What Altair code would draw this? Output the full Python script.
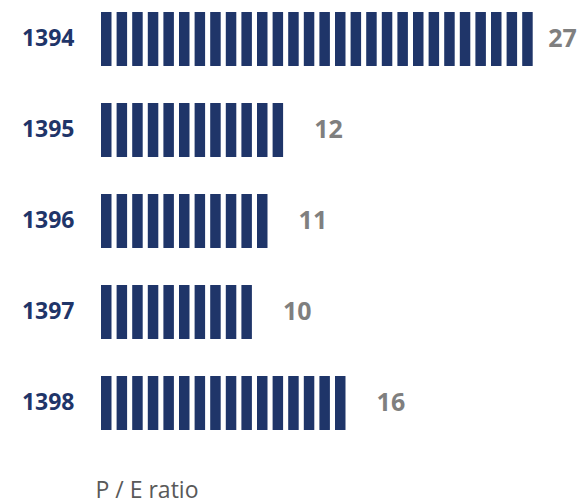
import altair as alt
import pandas as pd

years = ["1394", "1395", "1396", "1397", "1398"]
pe_labels = [27, 12, 11, 10, 16]
stripe_counts = [28, 12, 11, 10, 16]

NAVY = "#1f3569"
GRAY = "#7f7f7f"

rows = []
for y, n in zip(years, stripe_counts):
    for k in range(n):
        rows.append({"year": y, "x0": k, "x1": k + 0.673})
stripes = pd.DataFrame(rows)

labels = pd.DataFrame({"year": years, "label": [str(v) for v in pe_labels], "pe": pe_labels})

yenc = alt.Y("year:N", sort=years,
             scale=alt.Scale(paddingInner=0.407, paddingOuter=0.132),
             axis=alt.Axis(title=None, ticks=False, domain=False, labelPadding=27,
                           labelFontSize=23, labelFontWeight="bold", labelColor=NAVY,
                           labelFont="Open Sans"))
xscale = alt.Scale(domain=[0, 30], nice=False, zero=True)

bars = alt.Chart(stripes).mark_bar(color=NAVY).encode(
    x=alt.X("x0:Q", scale=xscale,
            axis=alt.Axis(title="P / E ratio", labels=False, ticks=False, domain=False,
                          grid=False, titleAnchor="start", titleAlign="left", titleX=-6,
                          titleY=55, titleBaseline="alphabetic", titleFontSize=23,
                          titleFontWeight="normal", titleColor="#595959",
                          titleFont="Open Sans")),
    x2="x1:Q",
    y=yenc,
)

text = alt.Chart(labels).mark_text(
    align="left", baseline="middle", dx=26, fontSize=25, fontWeight="bold",
    color=GRAY, font="Open Sans"
).encode(
    x=alt.X("pe:Q", scale=xscale),
    y=alt.Y("year:N", sort=years),
    text="label:N",
)

chart = alt.layer(bars, text).properties(
    width=468, height=442,
    autosize=alt.AutoSizeParams(type="none"),
    padding={"left": 101, "top": 0, "right": 9, "bottom": 62},
).configure(font="Open Sans", background="white").configure_view(stroke=None, strokeWidth=0)

chart.save("out.html", embed_options={"renderer": "svg", "actions": False})
